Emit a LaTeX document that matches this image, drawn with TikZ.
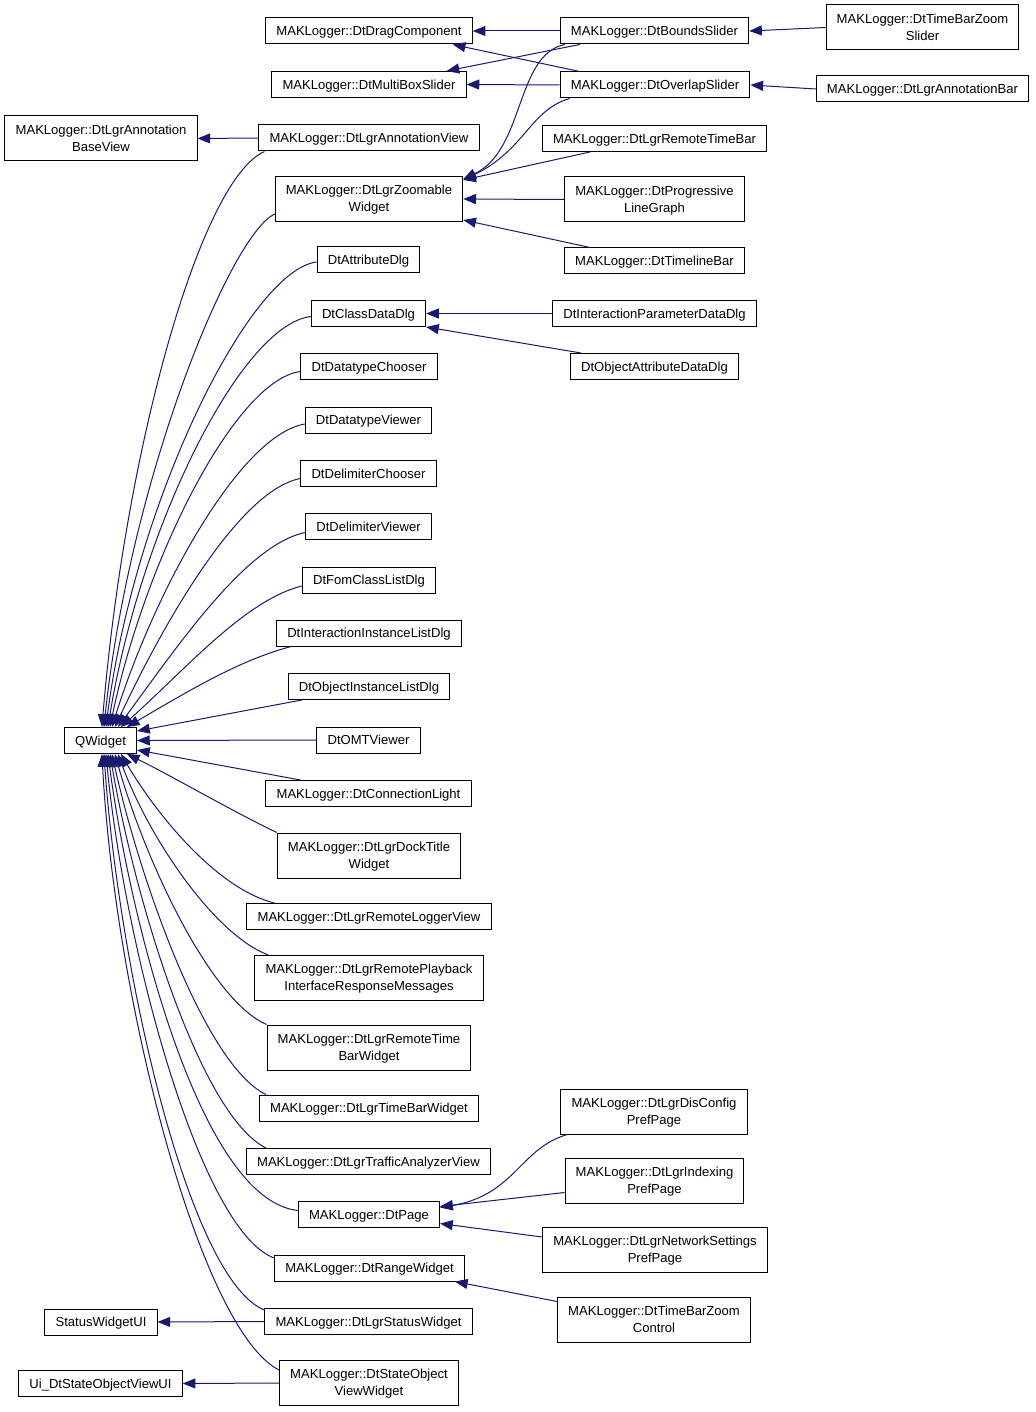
\documentclass[tikz,border=0pt]{standalone}
\usepackage{fontspec}
\setmainfont{Liberation Sans}
\usepackage{xcolor}
\usepackage{tikz}
\usetikzlibrary{arrows.meta}
\definecolor{edgeblue}{HTML}{191970}

\begin{document}
\begin{tikzpicture}[x=0.75pt, y=-0.75pt,
        every node/.style={font=\fontsize{9.8}{12.75}\selectfont},
        cls/.style={draw=black, line width=0.75pt, fill=white, align=center,
            inner xsep=8pt, inner ysep=2pt, minimum height=19.5pt,
            text height=7.2pt, text depth=0.2pt},
        cls2/.style={cls, minimum height=33.75pt, text height=19pt, text depth=0.2pt},
        inh/.style={draw=edgeblue, line width=0.75pt, -{Triangle[length=9.5pt, width=7.5pt]}}]
        \useasboundingbox (0,0) rectangle (1035,1412);

        % Base classes (left column)
        \node[cls2] (avb) at (101,138.5) {MAKLogger::DtLgrAnnotation\\BaseView};
        \node[cls] (qw) at (100.5,740.5) {QWidget};
        \node[cls] (swui) at (101,1322) {StatusWidgetUI};
        \node[cls] (sovui) at (100.5,1383.5) {Ui\_DtStateObjectViewUI};

        % Direct subclasses of QWidget (middle column)
        \node[cls] (drag) at (369,31) {MAKLogger::DtDragComponent};
        \node[cls] (mbox) at (369,84.5) {MAKLogger::DtMultiBoxSlider};
        \node[cls] (av) at (369,138) {MAKLogger::DtLgrAnnotationView};
        \node[cls2] (zw) at (369,199) {MAKLogger::DtLgrZoomable\\Widget};
        \node[cls] (attr) at (368.5,260) {DtAttributeDlg};
        \node[cls] (cdd) at (368.5,313.5) {DtClassDataDlg};
        \node[cls] (dtc) at (369,366.5) {DtDatatypeChooser};
        \node[cls] (dtv) at (368.5,420) {DtDatatypeViewer};
        \node[cls] (dlc) at (368.5,473.5) {DtDelimiterChooser};
        \node[cls] (dlv) at (368.5,526.5) {DtDelimiterViewer};
        \node[cls] (fom) at (369,580) {DtFomClassListDlg};
        \node[cls] (iil) at (369,633) {DtInteractionInstanceListDlg};
        \node[cls] (oil) at (369,686.5) {DtObjectInstanceListDlg};
        \node[cls] (omt) at (368.5,740) {DtOMTViewer};
        \node[cls] (conn) at (368.5,793.5) {MAKLogger::DtConnectionLight};
        \node[cls2] (dock) at (369,855.5) {MAKLogger::DtLgrDockTitle\\Widget};
        \node[cls] (rlv) at (369,916.5) {MAKLogger::DtLgrRemoteLoggerView};
        \node[cls2] (rpb) at (369,978) {MAKLogger::DtLgrRemotePlayback\\InterfaceResponseMessages};
        \node[cls2] (rtbw) at (369,1047.5) {MAKLogger::DtLgrRemoteTime\\BarWidget};
        \node[cls] (tbw) at (369,1108) {MAKLogger::DtLgrTimeBarWidget};
        \node[cls] (tav) at (368.5,1161.5) {MAKLogger::DtLgrTrafficAnalyzerView};
        \node[cls] (page) at (369,1214.5) {MAKLogger::DtPage};
        \node[cls] (rng) at (369.5,1268) {MAKLogger::DtRangeWidget};
        \node[cls] (stw) at (368.5,1321.5) {MAKLogger::DtLgrStatusWidget};
        \node[cls2] (sov) at (369,1383) {MAKLogger::DtStateObject\\ViewWidget};

        % Second level subclasses
        \node[cls] (bounds) at (654.5,31) {MAKLogger::DtBoundsSlider};
        \node[cls] (overlap) at (655,85) {MAKLogger::DtOverlapSlider};
        \node[cls] (rtb) at (654.5,138.5) {MAKLogger::DtLgrRemoteTimeBar};
        \node[cls2] (plg) at (654.5,199.5) {MAKLogger::DtProgressive\\LineGraph};
        \node[cls] (tlb) at (654.5,261) {MAKLogger::DtTimelineBar};
        \node[cls] (ipd) at (654.5,313.5) {DtInteractionParameterDataDlg};
        \node[cls] (oad) at (654.5,366.5) {DtObjectAttributeDataDlg};
        \node[cls2] (dcp) at (654,1111.5) {MAKLogger::DtLgrDisConfig\\PrefPage};
        \node[cls2] (idx) at (654.5,1180.5) {MAKLogger::DtLgrIndexing\\PrefPage};
        \node[cls2] (nsp) at (655,1250) {MAKLogger::DtLgrNetworkSettings\\PrefPage};
        \node[cls2] (tbzc) at (654,1319.5) {MAKLogger::DtTimeBarZoom\\Control};

        % Third level subclasses
        \node[cls2] (tbzs) at (922.5,27.5) {MAKLogger::DtTimeBarZoom\\Slider};
        \node[cls] (anbar) at (922.5,89) {MAKLogger::DtLgrAnnotationBar};

        % Top right part of the hierarchy
        \draw[inh] (tbzs.west) -- (bounds.east);
        \draw[inh] (anbar.west) -- (overlap.east);
        \draw[inh] (bounds.west) -- (drag.east);
        \draw[inh] ([shift={(20,0)}]overlap.north west) -- ([shift={(-20,0)}]drag.south east);
        \draw[inh] ([shift={(20,0)}]bounds.south west) -- ([shift={(-20,0)}]mbox.north east);
        \draw[inh] (overlap.west) -- (mbox.east);
        \draw[inh] ([shift={(5,0)}]bounds.south west) .. controls (515,55) and (525,150) .. ([shift={(0,3)}]zw.north east);
        \draw[inh] ([shift={(10,0)}]overlap.south west) .. controls (530,110) and (525,150) .. ([shift={(0,4)}]zw.north east);
        \draw[inh] ([shift={(48,0)}]rtb.south west) -- ([shift={(0,4)}]zw.north east);
        \draw[inh] (plg.west) -- (zw.east);
        \draw[inh] ([shift={(26,0)}]tlb.north west) -- ([shift={(0,-2)}]zw.south east);
        \draw[inh] (ipd.west) -- (cdd.east);
        \draw[inh] ([shift={(11,0)}]oad.north west) -- (cdd.south east);
        \draw[inh] (av.west) -- (avb.east);

        % Everything above QWidget
        \draw[inh] ([shift={(6,0)}]av.south west) .. controls (200,180) and (125,450) .. ([shift={(38,0)}]qw.north west);
        \draw[inh] ([shift={(0,-8)}]zw.south west) .. controls (230,235) and (130,480) .. ([shift={(40,0)}]qw.north west);
        \draw[inh] ([shift={(0,2)}]attr.west) .. controls (250,270) and (135,500) .. ([shift={(42,0)}]qw.north west);
        \draw[inh] ([shift={(0,3)}]cdd.west) .. controls (240,325) and (140,530) .. ([shift={(44,0)}]qw.north west);
        \draw[inh] ([shift={(0,5)}]dtc.west) .. controls (235,380) and (145,560) .. ([shift={(46,0)}]qw.north west);
        \draw[inh] ([shift={(0,4)}]dtv.west) .. controls (240,435) and (155,590) .. ([shift={(48,0)}]qw.north west);
        \draw[inh] ([shift={(0,5)}]dlc.west) .. controls (240,490) and (165,620) .. ([shift={(51,0)}]qw.north west);
        \draw[inh] ([shift={(0,6)}]dlv.west) .. controls (245,545) and (175,650) .. ([shift={(54,0)}]qw.north west);
        \draw[inh] ([shift={(0,6)}]fom.west) .. controls (245,600) and (185,670) .. ([shift={(57,0)}]qw.north west);
        \draw[inh] ([shift={(15,0)}]iil.south west) .. controls (240,660) and (190,690) .. ([shift={(63,0)}]qw.north west);
        \draw[inh] ([shift={(14,0)}]oil.south west) -- ([shift={(0,4)}]qw.north east);
        \draw[inh] (omt.west) -- (qw.east);
        \draw[inh] ([shift={(35,0)}]conn.north west) -- ([shift={(0,-4)}]qw.south east);

        % Everything below QWidget
        \draw[inh] (dock.north west) .. controls (230,810) and (170,775) .. ([shift={(63,0)}]qw.south west);
        \draw[inh] ([shift={(28,0)}]rlv.north west) .. controls (220,890) and (160,820) .. ([shift={(57,0)}]qw.south west);
        \draw[inh] ([shift={(14,0)}]rpb.north west) .. controls (215,935) and (150,840) .. ([shift={(54,0)}]qw.south west);
        \draw[inh] (rtbw.north west) .. controls (210,1000) and (145,860) .. ([shift={(51,0)}]qw.south west);
        \draw[inh] ([shift={(7,0)}]tbw.north west) .. controls (205,1065) and (140,880) .. ([shift={(48,0)}]qw.south west);
        \draw[inh] ([shift={(20,0)}]tav.north west) .. controls (200,1115) and (135,900) .. ([shift={(46,0)}]qw.south west);
        \draw[inh] ([shift={(0,-4)}]page.west) .. controls (200,1200) and (130,920) .. ([shift={(44,0)}]qw.south west);
        \draw[inh] ([shift={(0,-10)}]rng.west) .. controls (200,1230) and (125,950) .. ([shift={(42,0)}]qw.south west);
        \draw[inh] ([shift={(0,2)}]stw.north west) .. controls (190,1280) and (120,980) .. ([shift={(40,0)}]qw.south west);
        \draw[inh] ([shift={(0,10)}]sov.north west) .. controls (200,1330) and (115,1000) .. ([shift={(38,0)}]qw.south west);

        % Bottom right part of the hierarchy
        \draw[inh] ([shift={(7,0)}]dcp.south west) .. controls (520,1148) and (515,1195) .. ([shift={(0,-7)}]page.east);
        \draw[inh] ([shift={(0,12)}]idx.west) -- ([shift={(0,-8)}]page.east);
        \draw[inh] ([shift={(0,-13)}]nsp.west) -- ([shift={(0,9)}]page.east);
        \draw[inh] ([shift={(0,5)}]tbzc.north west) -- ([shift={(-10,0)}]rng.south east);
        \draw[inh] (stw.west) -- (swui.east);
        \draw[inh] (sov.west) -- (sovui.east);
    \end{tikzpicture}
\end{document}
